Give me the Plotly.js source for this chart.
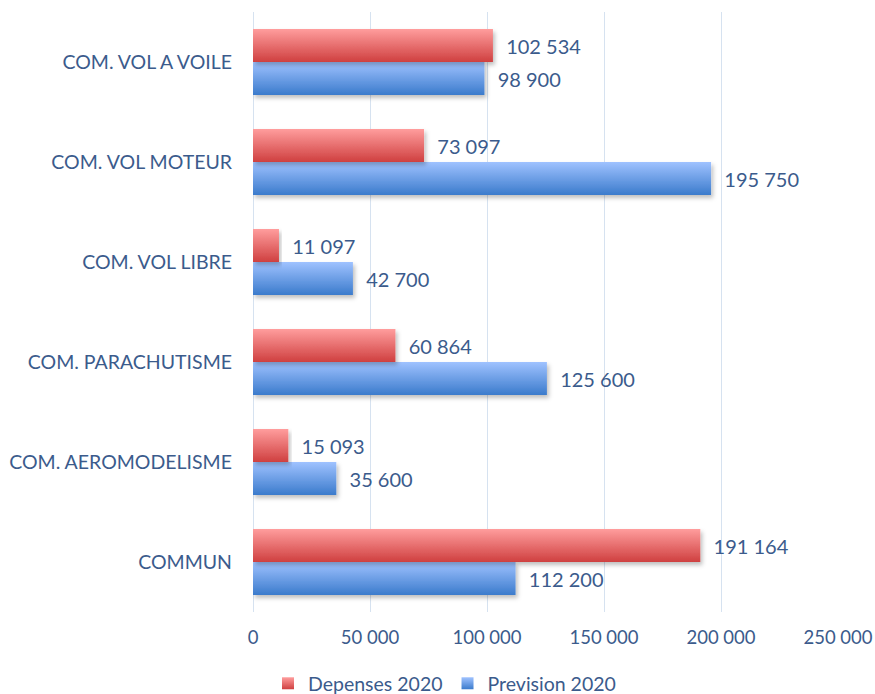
<!DOCTYPE html>
<html>
<head>
<meta charset="utf-8">
<script src="https://cdn.plot.ly/plotly-3.0.1.min.js"></script>
<style>html,body{margin:0;padding:0;background:#fff;}#chart{width:875px;height:694px;}</style>
</head>
<body>
<div id="chart"></div>
<script>
const categories = ["COMMUN", "COM. AEROMODELISME", "COM. PARACHUTISME", "COM. VOL LIBRE", "COM. VOL MOTEUR", "COM. VOL A VOILE"];
const depenses2020 = [191164, 15093, 60864, 11097, 73097, 102534];
const prevision2020 = [112200, 35600, 125600, 42700, 195750, 98900];
const tickValues = [0, 50000, 100000, 150000, 200000, 250000];
const tickLabels = ["0", "50 000", "100 000", "150 000", "200 000", "250 000"];

function fmt(v) { return String(v).replace(/\B(?=(\d{3})+(?!\d))/g, ' '); }
const textColor = '#3b5b8c';
const fontFam = 'Lato, "Open Sans", sans-serif';

const data = [
  {
    type: 'bar', orientation: 'h', name: 'Prevision 2020',
    y: categories, x: prevision2020,
    text: prevision2020.map(v => '\u00a0\u00a0' + fmt(v)),
    textposition: 'outside', cliponaxis: false,
    textfont: {color: textColor, size: 20, family: fontFam},
    marker: {color: '#6e9fe6'}, hoverinfo: 'x'
  },
  {
    type: 'bar', orientation: 'h', name: 'Depenses 2020',
    y: categories, x: depenses2020,
    text: depenses2020.map(v => '\u00a0\u00a0' + fmt(v)),
    textposition: 'outside', cliponaxis: false,
    textfont: {color: textColor, size: 20, family: fontFam},
    marker: {color: '#e86b6b'}, hoverinfo: 'x'
  }
];

const layout = {
  width: 875, height: 694,
  margin: {l: 253, r: 37, t: 12, b: 82, autoexpand: false},
  paper_bgcolor: '#ffffff', plot_bgcolor: '#ffffff',
  barmode: 'group', bargap: 0.34, bargroupgap: 0,
  font: {family: fontFam, color: textColor, size: 18},
  showlegend: true,
  legend: {orientation: 'h', xref: 'container', x: 0.508, xanchor: 'center',
           yref: 'container', y: 0.015, yanchor: 'middle',
           traceorder: 'reversed', font: {size: 19.5, color: textColor}, itemwidth: 30},
  xaxis: {
    range: [0, 250000], tickvals: tickValues, ticktext: tickLabels,
    showgrid: true, gridcolor: '#d6e2f0', gridwidth: 1, zeroline: true, zerolinecolor: '#d6e2f0',
    showline: false, ticks: '', ticklabelstandoff: 12, automargin: false,
    tickfont: {size: 18.5, color: textColor}, fixedrange: true
  },
  yaxis: {
    type: 'category', categoryorder: 'array', categoryarray: categories,
    showgrid: false, zeroline: false, showline: false, ticks: '', automargin: false,
    ticklabelstandoff: 20, tickfont: {size: 19.5, color: textColor}, fixedrange: true
  }
};

Plotly.newPlot('chart', data, layout, {displayModeBar: false, staticPlot: true}).then(function(gd) {
  const svg = gd.querySelector('svg.main-svg');
  const ns = 'http://www.w3.org/2000/svg';
  let defs = svg.querySelector('defs');
  if (!defs) { defs = document.createElementNS(ns, 'defs'); svg.insertBefore(defs, svg.firstChild); }
  function grad(id, c1, c2) {
    const g = document.createElementNS(ns, 'linearGradient');
    g.setAttribute('id', id); g.setAttribute('x1', '0'); g.setAttribute('y1', '0');
    g.setAttribute('x2', '0'); g.setAttribute('y2', '1');
    [[0, c1], [1, c2]].forEach(function(s) {
      const st = document.createElementNS(ns, 'stop');
      st.setAttribute('offset', s[0]); st.setAttribute('stop-color', s[1]);
      g.appendChild(st);
    });
    defs.appendChild(g);
  }
  grad('gBlue', '#9fc2ff', '#3b7bcc');
  grad('gRed', '#ff9d9d', '#cf4040');
  const f = document.createElementNS(ns, 'filter');
  f.setAttribute('id', 'shadow'); f.setAttribute('x', '-5%'); f.setAttribute('y', '-20%');
  f.setAttribute('width', '115%'); f.setAttribute('height', '160%');
  const ds = document.createElementNS(ns, 'feDropShadow');
  ds.setAttribute('dx', '2'); ds.setAttribute('dy', '3'); ds.setAttribute('stdDeviation', '2');
  ds.setAttribute('flood-color', '#000'); ds.setAttribute('flood-opacity', '0.25');
  f.appendChild(ds); defs.appendChild(f);
  const traces = gd.querySelectorAll('g.trace.bars');
  const ids = ['gBlue', 'gRed'];
  traces.forEach(function(t, i) {
    t.querySelectorAll('g.point path').forEach(function(p) {
      p.style.fill = 'url(#' + ids[i] + ')';
      p.style.filter = 'url(#shadow)';
    });
  });
  const leg = gd.querySelectorAll('g.legend g.traces');
  leg.forEach(function(t) {
    const name = t.textContent;
    const id = name.indexOf('Depenses') >= 0 ? 'gRed' : 'gBlue';
    t.querySelectorAll('g.legendpoints path').forEach(function(p) { p.style.fill = 'url(#' + id + ')'; });
  });
});
</script>
</body>
</html>
